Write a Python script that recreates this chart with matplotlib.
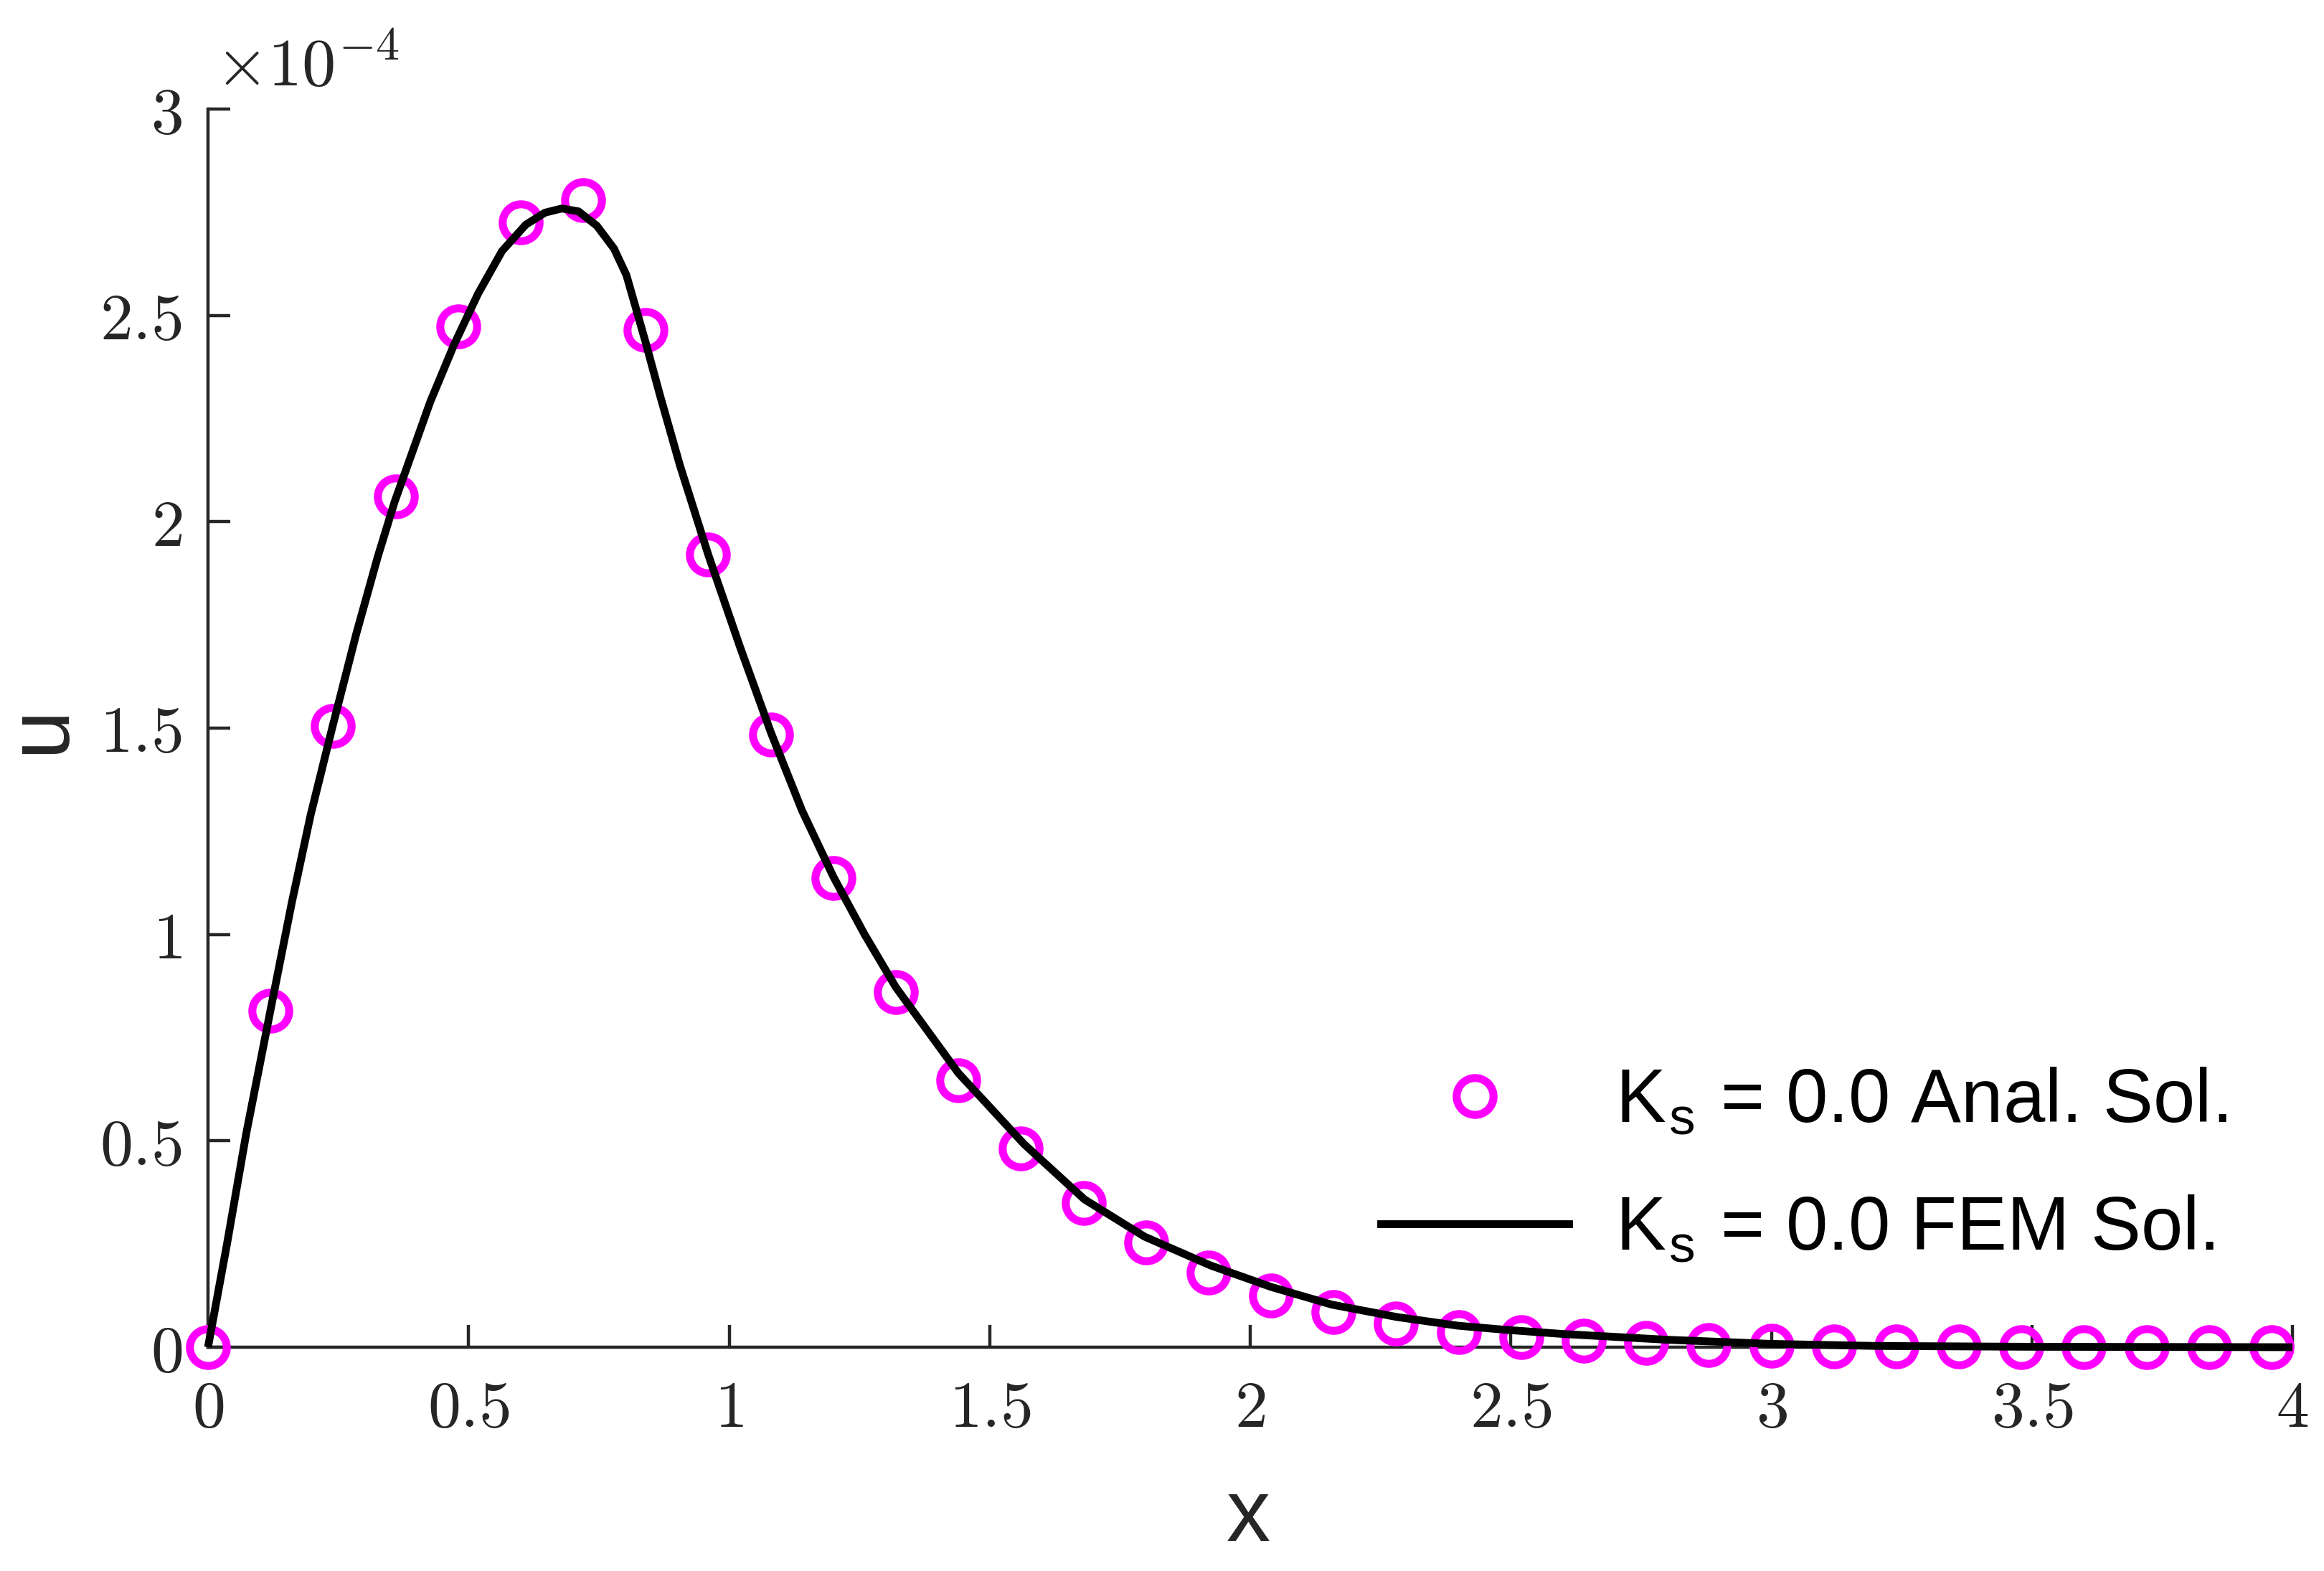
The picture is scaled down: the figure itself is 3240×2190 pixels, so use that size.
import matplotlib
matplotlib.use("Agg")
import matplotlib.pyplot as plt
from matplotlib.ticker import FuncFormatter, MultipleLocator
from matplotlib.lines import Line2D

plt.rcParams['mathtext.fontset'] = 'cm'
plt.rcParams['font.family'] = ['Liberation Sans', 'DejaVu Sans']

# Analytical solution (circles)
x_anal = [0.00, 0.12, 0.24, 0.36, 0.48, 0.60, 0.72, 0.84, 0.96, 1.08, 1.20, 1.32,
          1.44, 1.56, 1.68, 1.80, 1.92, 2.04, 2.16, 2.28, 2.40, 2.52, 2.64, 2.76,
          2.88, 3.00, 3.12, 3.24, 3.36, 3.48, 3.60, 3.72, 3.84, 3.96]
u_anal_e4 = [0.0, 0.815, 1.505, 2.062, 2.473, 2.726, 2.780, 2.465, 1.921, 1.485, 1.137, 0.861,
             0.647, 0.481, 0.350, 0.254, 0.181, 0.125, 0.0855, 0.0575, 0.0365, 0.025, 0.016, 0.010,
             0.006, 0.004, 0.002, 0.0015, 0.001, 0.0005, 0.0003, 0.0002, 0.0001, 0.0]

# FEM solution (line)
x_fem = [0.0, 0.0367, 0.0734, 0.119, 0.1606, 0.197, 0.2386, 0.2844, 0.3257, 0.358,
         0.4266, 0.4725, 0.518, 0.5643, 0.610, 0.6468, 0.679, 0.711, 0.7463, 0.779,
         0.8028, 0.8212, 0.8395, 0.867, 0.906, 0.96, 1.02, 1.08, 1.14, 1.20, 1.26,
         1.32, 1.44, 1.566, 1.682, 1.797, 1.924, 2.040, 2.157, 2.282, 2.399, 2.491,
         2.6, 2.8, 3.0, 3.2, 3.5, 4.0]
u_fem_e4 = [0.0, 0.252, 0.518, 0.811, 1.076, 1.290, 1.502, 1.728, 1.915, 2.048,
            2.291, 2.430, 2.552, 2.656, 2.720, 2.749, 2.759, 2.752, 2.717, 2.662,
            2.598, 2.517, 2.436, 2.308, 2.135, 1.92, 1.70, 1.49, 1.30, 1.14, 1.0,
            0.872, 0.664, 0.492, 0.358, 0.268, 0.198, 0.146, 0.103, 0.073, 0.052, 0.042,
            0.032, 0.018, 0.008, 0.003, 0.001, 0.0]

label_anal = r"K$_\mathregular{s}$ = 0.0 Anal. Sol."
label_fem = r"K$_\mathregular{s}$ = 0.0 FEM Sol."

u_anal = [v * 1e-4 for v in u_anal_e4]
u_fem = [v * 1e-4 for v in u_fem_e4]

W, H = 3241, 2190
fig = plt.figure(figsize=(W / 200, H / 200), dpi=200)
ax = fig.add_axes([290 / W, 1 - 1878 / H, (3196 - 290) / W, (1878 - 152) / H])

gray = (0.15, 0.15, 0.15)
magenta = (1, 0, 1)

ax.plot(x_anal, u_anal, linestyle='none', marker='o', markersize=18.5,
        markerfacecolor='none', markeredgecolor=magenta, markeredgewidth=4.0,
        clip_on=False, zorder=3)
ax.plot(x_fem, u_fem, color='black', linewidth=3.9, clip_on=False, zorder=4,
        solid_joinstyle='round', solid_capstyle='butt')

ax.set_xlim(0, 4)
ax.set_ylim(0, 3e-4)
ax.xaxis.set_major_locator(MultipleLocator(0.5))
ax.yaxis.set_major_locator(MultipleLocator(0.5e-4))
ax.xaxis.set_major_formatter(FuncFormatter(lambda v, p: f"${v:g}$"))
ax.yaxis.set_major_formatter(FuncFormatter(lambda v, p: f"${round(v / 1e-4, 4):g}$"))

for s in ['top', 'right']:
    ax.spines[s].set_visible(False)
for s in ['left', 'bottom']:
    ax.spines[s].set_color(gray)
    ax.spines[s].set_linewidth(1.6)

ax.tick_params(direction='in', length=11, width=1.6, color=gray, labelcolor=gray,
               labelsize=33)
ax.tick_params(axis='x', pad=16)
ax.tick_params(axis='y', pad=13)

fig.text(300 / W, 1 - 121 / H, r"$\times10^{-4}$", fontsize=34, color=gray,
         ha='left', va='baseline')

fig.text(1740 / W, 1 - 2148 / H, "x", fontsize=44, color=gray, ha='center', va='baseline')
fig.text(57 / W, 1 - 1016 / H, "u", fontsize=44, color=gray, ha='center', va='center',
         rotation=90)

handles = [Line2D([], [], linestyle='none', marker='o', markersize=18.5,
                  markerfacecolor='none', markeredgecolor=magenta, markeredgewidth=4.0),
           Line2D([], [], color='black', linewidth=3.9)]
leg = ax.legend(handles, [label_anal, label_fem], loc='center left',
                bbox_to_anchor=(1925 / W, 1 - 1626 / H), bbox_transform=fig.transFigure,
                frameon=False, fontsize=37.7, handlelength=2.5, handletextpad=0.62,
                borderpad=0, borderaxespad=0, labelspacing=0.75)

fig.savefig("out.png", dpi=200)
